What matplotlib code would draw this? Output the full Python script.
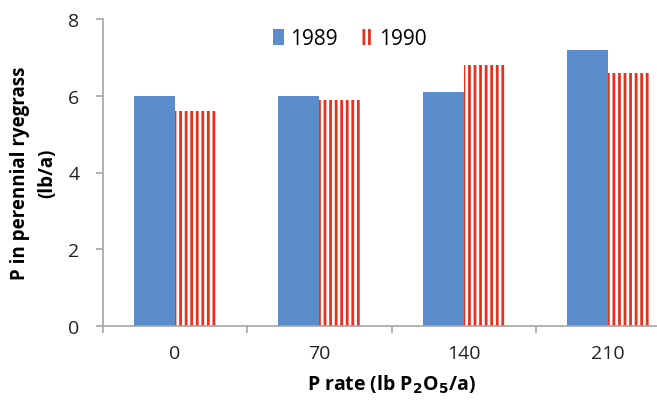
import matplotlib
matplotlib.use('Agg')
import matplotlib.pyplot as plt
import numpy as np

# P uptake in perennial ryegrass by P rate
rates = ['0', '70', '140', '210']
p_1989 = [6.0, 6.0, 6.1, 7.2]
p_1990 = [5.6, 5.9, 6.8, 6.6]

plt.rcParams['font.family'] = ['Open Sans', 'DejaVu Sans']
plt.rcParams['hatch.linewidth'] = 2.0

blue = '#5b8ccb'
red = '#e8301e'
grey = '#a6a6a6'

fig = plt.figure(figsize=(6.57, 4.02), dpi=100)
# plot area runs off the right edge, as in the cropped original
ax = fig.add_axes([103/657, 75/402, 577/657, 307/402])

x = np.arange(len(rates))
w = 0.285
ax.bar(x - w/2, p_1989, w, color=blue, linewidth=0, label='1989')
ax.bar(x + w/2, p_1990, w, facecolor='white', edgecolor=red,
       hatch='|||', linewidth=0, label='1990')

ax.set_xlim(-0.5, 3.5)
ax.set_ylim(0, 8)
ax.set_yticks([0, 2, 4, 6, 8])
ax.set_xticks(x)
ax.set_xticklabels(rates)
ax.set_xticks(np.arange(-0.5, 4, 1), minor=True)
ax.tick_params(axis='x', which='major', length=0, pad=13, labelsize=14,
               labelcolor='#222222')
ax.tick_params(axis='x', which='minor', length=5, color=grey, width=1.2,
               direction='out')
ax.tick_params(axis='y', length=5, color=grey, width=1.2, pad=12,
               labelsize=14, labelcolor='#222222')

for s in ['top', 'right']:
    ax.spines[s].set_visible(False)
for s in ['left', 'bottom']:
    ax.spines[s].set_color(grey)
    ax.spines[s].set_linewidth(1.2)

ax.set_ylabel('P in perennial ryegrass\n(lb/a)', fontsize=13.5,
              fontweight='bold', labelpad=8, linespacing=1.5)
ax.set_xlabel('P rate (lb P$_\\mathbf{2}$O$_\\mathbf{5}$/a)', fontsize=14,
              fontweight='bold', labelpad=8)

ax.legend(loc='center', bbox_to_anchor=(0.428, 0.935), ncol=2,
          frameon=False, fontsize=15, handlelength=0.5, handleheight=0.8,
          handletextpad=0.3, columnspacing=1.2)

fig.savefig('out.png', dpi=100)
